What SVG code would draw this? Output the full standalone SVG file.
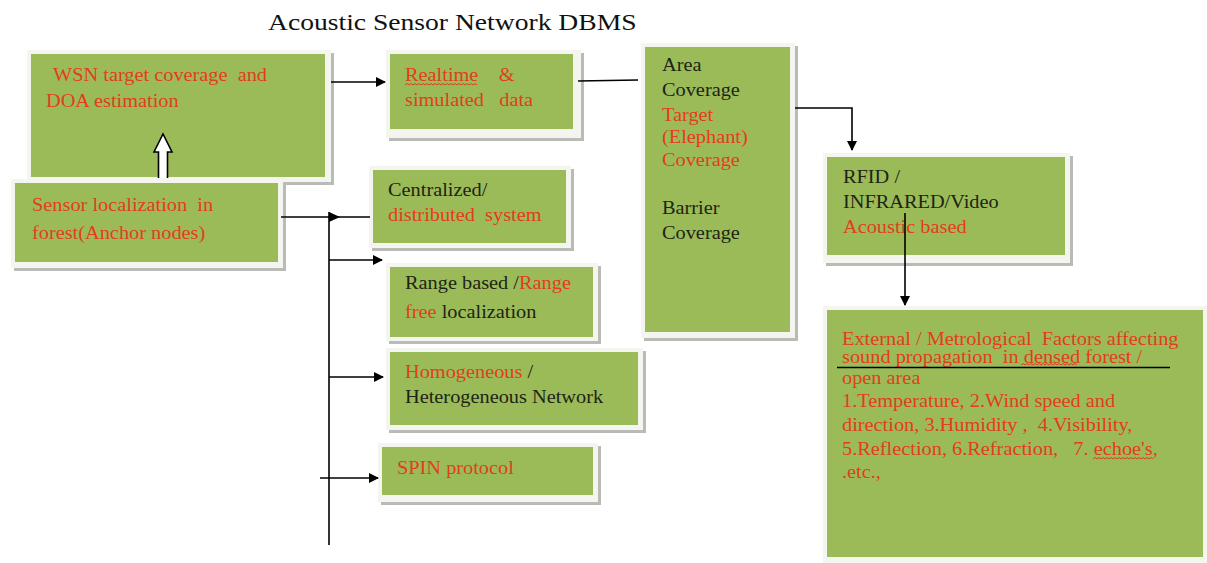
<svg xmlns="http://www.w3.org/2000/svg" width="1207" height="563" viewBox="0 0 1207 563" font-family="'Liberation Serif','Times New Roman','DejaVu Serif',serif">
<defs>
<style>
text{font-family:'Liberation Serif','Times New Roman','DejaVu Serif',serif;font-size:18px;fill:#1e2414;white-space:pre}
.r{fill:#e23d1c}
.shadow{fill:#b9bbb6}
.frame{fill:#f3f5ee}
.green{fill:#9bbb59}
.ln{stroke:#000;stroke-width:1.6;fill:none}
.sq{stroke:#e23d1c;stroke-width:1;fill:none}
.t{font-size:23px;fill:#111}
</style>
<marker id="ah" viewBox="0 0 10 10" refX="9" refY="5" markerWidth="10" markerHeight="10" markerUnits="userSpaceOnUse" orient="auto">
<path d="M0,0 L10,5 L0,10 z" fill="#000"/>
</marker>
</defs>
<rect width="1207" height="563" fill="#fff"/>
<text class="t" transform="translate(268 30) scale(1.2 1)">Acoustic Sensor Network DBMS</text>

<g id="wsn">
<rect class="shadow" x="30" y="53" width="304" height="132"/>
<rect class="frame" x="27" y="50" width="304" height="132"/>
<rect class="green" x="31" y="54" width="294" height="123"/>
<text class="r" transform="translate(53 81) scale(1.13 1)">WSN target coverage  and</text>
<text class="r" transform="translate(46 107) scale(1.13 1)">DOA estimation</text>
</g>

<g id="sensor">
<rect class="shadow" x="14" y="182" width="272" height="89"/>
<rect class="frame" x="11" y="179" width="272" height="89"/>
<rect class="green" x="15" y="183" width="263" height="79"/>
<text class="r" transform="translate(32 211) scale(1.13 1)">Sensor localization  in</text>
<text class="r" transform="translate(32 239) scale(1.13 1)">forest(Anchor nodes)</text>
</g>

<g id="realtime">
<rect class="shadow" x="389" y="53" width="195" height="88"/>
<rect class="frame" x="386" y="50" width="195" height="88"/>
<rect class="green" x="390" y="54" width="183" height="75"/>
<text class="r" transform="translate(405 81) scale(1.13 1)">Realtime    &amp;</text>
<text class="r" transform="translate(405 106) scale(1.13 1)">simulated   data</text>
<path class="sq" d="M405 85 l2 -1.5 l2 1.5 l2 -1.5 l2 1.5 l2 -1.5 l2 1.5 l2 -1.5 l2 1.5 l2 -1.5 l2 1.5 l2 -1.5 l2 1.5 l2 -1.5 l2 1.5 l2 -1.5 l2 1.5 l2 -1.5 l2 1.5 l2 -1.5 l2 1.5 l2 -1.5 l2 1.5 l2 -1.5 l2 1.5 l2 -1.5 l2 1.5 l2 -1.5 l2 1.5 l2 -1.5 l2 1.5 l2 -1.5 l2 1.5 l2 -1.5 l2 1.5 l2 -1.5 l2 1.5"/>
</g>

<g id="area">
<rect class="shadow" x="644" y="46" width="154" height="295"/>
<rect class="frame" x="641" y="43" width="154" height="295"/>
<rect class="green" x="645" y="47" width="145" height="285"/>
<text transform="translate(662 71) scale(1.13 1)">Area</text>
<text transform="translate(662 96) scale(1.13 1)">Coverage</text>
<text class="r" transform="translate(662 121) scale(1.13 1)">Target</text>
<text class="r" transform="translate(662 143) scale(1.13 1)">(Elephant)</text>
<text class="r" transform="translate(662 166) scale(1.13 1)">Coverage</text>
<text transform="translate(662 214) scale(1.13 1)">Barrier</text>
<text transform="translate(662 239) scale(1.13 1)">Coverage</text>
</g>

<g id="centralized">
<rect class="shadow" x="372" y="169" width="202" height="82"/>
<rect class="frame" x="369" y="166" width="202" height="82"/>
<rect class="green" x="373" y="170" width="193" height="73"/>
<text transform="translate(388 196) scale(1.13 1)">Centralized/</text>
<text class="r" transform="translate(388 221) scale(1.13 1)">distributed  system</text>
</g>

<g id="range">
<rect class="shadow" x="389" y="266" width="212" height="78"/>
<rect class="frame" x="386" y="263" width="212" height="78"/>
<rect class="green" x="390" y="267" width="203" height="70"/>
<text transform="translate(405 289) scale(1.13 1)">Range based /<tspan class="r">Range</tspan></text>
<text transform="translate(405 318) scale(1.13 1)"><tspan class="r">free</tspan> localization</text>
</g>

<g id="homogeneous">
<rect class="shadow" x="389" y="351" width="257" height="82"/>
<rect class="frame" x="386" y="348" width="257" height="82"/>
<rect class="green" x="390" y="352" width="248" height="73"/>
<text transform="translate(405 378) scale(1.13 1)"><tspan class="r">Homogeneous</tspan> /</text>
<text transform="translate(405 403) scale(1.13 1)">Heterogeneous Network</text>
</g>

<g id="spin">
<rect class="shadow" x="381" y="446" width="220" height="59"/>
<rect class="frame" x="378" y="443" width="220" height="59"/>
<rect class="green" x="382" y="447" width="211" height="48"/>
<text class="r" transform="translate(397 474) scale(1.13 1)">SPIN protocol</text>
</g>

<g id="rfid">
<rect class="shadow" x="826" y="156" width="247" height="110"/>
<rect class="frame" x="823" y="153" width="247" height="110"/>
<rect class="green" x="827" y="157" width="238" height="98"/>
<text transform="translate(843 183) scale(1.13 1)">RFID /</text>
<text transform="translate(843 208) scale(1.13 1)">INFRARED/Video</text>
<text class="r" transform="translate(843 233) scale(1.13 1)">Acoustic based</text>
</g>

<g id="external">
<rect class="frame" x="823" y="306" width="384" height="257"/>
<rect class="green" x="827" y="310" width="376" height="247"/>
<text class="r" transform="translate(842 345) scale(1.13 1)">External / Metrological  Factors affecting</text>
<text class="r" transform="translate(842 363) scale(1.13 1)">sound propagation  in densed forest /</text>
<path class="sq" d="M1021 365 l2 -1.5 l2 1.5 l2 -1.5 l2 1.5 l2 -1.5 l2 1.5 l2 -1.5 l2 1.5 l2 -1.5 l2 1.5 l2 -1.5 l2 1.5 l2 -1.5 l2 1.5 l2 -1.5 l2 1.5 l2 -1.5 l2 1.5 l2 -1.5 l2 1.5 l2 -1.5 l2 1.5 l2 -1.5 l2 1.5 l2 -1.5 l2 1.5 l2 -1.5 l2 1.5"/>
<line x1="837" y1="367.5" x2="1170" y2="367.5" stroke="#000" stroke-width="1.5"/>
<text class="r" transform="translate(842 384) scale(1.13 1)">open area</text>
<text class="r" transform="translate(842 407) scale(1.13 1)">1.Temperature, 2.Wind speed and</text>
<text class="r" transform="translate(842 431) scale(1.13 1)">direction, 3.Humidity ,  4.Visibility,</text>
<text class="r" transform="translate(842 455) scale(1.13 1)">5.Reflection, 6.Refraction,   7. echoe's,</text>
<path class="sq" d="M1093 459 l2 -1.5 l2 1.5 l2 -1.5 l2 1.5 l2 -1.5 l2 1.5 l2 -1.5 l2 1.5 l2 -1.5 l2 1.5 l2 -1.5 l2 1.5 l2 -1.5 l2 1.5 l2 -1.5 l2 1.5 l2 -1.5 l2 1.5 l2 -1.5 l2 1.5 l2 -1.5 l2 1.5 l2 -1.5 l2 1.5 l2 -1.5 l2 1.5 l2 -1.5 l2 1.5 l2 -1.5 l2 1.5"/>
<text class="r" transform="translate(842 478) scale(1.13 1)">.etc.,</text>
</g>

<g id="connectors">
<line class="ln" x1="331" y1="82" x2="385" y2="82" marker-end="url(#ah)"/>
<line class="ln" x1="578" y1="81" x2="638" y2="80"/>
<polyline class="ln" points="795,108 852,108 852,150" marker-end="url(#ah)"/>
<line class="ln" x1="905" y1="213" x2="905" y2="305" marker-end="url(#ah)"/>
<line class="ln" x1="281" y1="217" x2="370" y2="217"/>
<path d="M329,212 L340,217 L329,222 z" fill="#000"/>
<line class="ln" x1="329" y1="212" x2="329" y2="545"/>
<line class="ln" x1="329" y1="260" x2="382" y2="260" marker-end="url(#ah)"/>
<line class="ln" x1="329" y1="377" x2="383" y2="377" marker-end="url(#ah)"/>
<line class="ln" x1="320" y1="478" x2="378" y2="478" marker-end="url(#ah)"/>
<path d="M158.5,178 L158.5,152 L154,152 L163,134 L172,152 L167.5,152 L167.5,178" fill="#fff" stroke="#000" stroke-width="1.6"/>
</g>
</svg>
